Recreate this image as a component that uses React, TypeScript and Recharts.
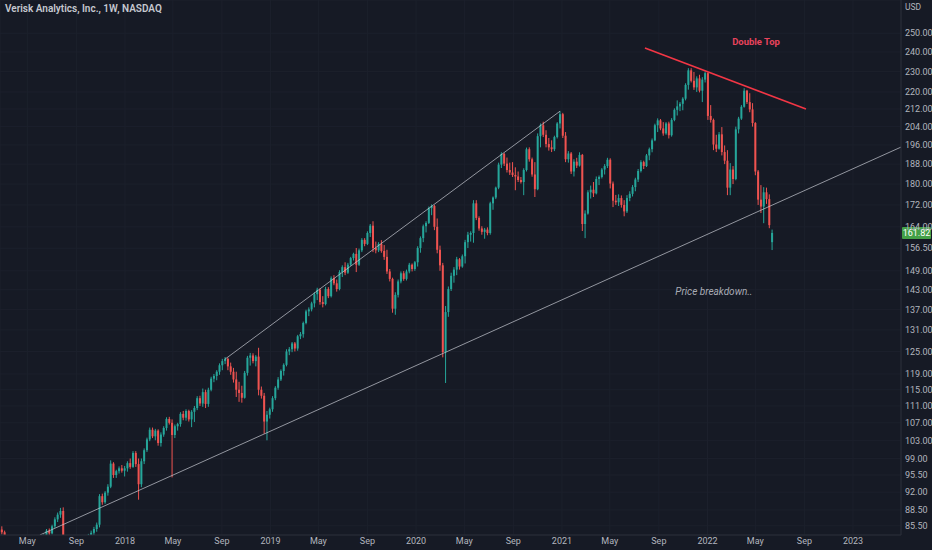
import {
  Bar,
  CartesianGrid,
  ComposedChart,
  ReferenceDot,
  ReferenceLine,
  XAxis,
  YAxis,
} from "recharts";

const GREEN = "#26a69a";
const RED = "#ef5350";
const BG = "#161a25";
const TEXT = "#b2b5be";
const GRID = "#1c202c";

// weeks are counted from Monday 1 Jan 2018; first candle is the week of 20 Feb 2017
const FIRST_WEEK = -45;

// weekly candles: [open, high, low, close]
const ohlc2017 = [
  [83.6, 85.2, 83.2, 84.8], [84.8, 85.4, 83.9, 84.3], [84.3, 84.6, 82.0, 82.6], [82.6, 83.2, 81.0, 81.5],
  [81.5, 82.4, 80.6, 82.0], [82.0, 82.8, 80.9, 81.2], [81.2, 82.5, 80.8, 82.2], [82.2, 83.4, 81.7, 83.0],
  [83.0, 83.5, 81.9, 82.3], [82.3, 82.9, 80.5, 81.0], [81.0, 81.8, 79.8, 80.6], [80.6, 81.9, 80.2, 81.6],
  [81.6, 82.8, 81.2, 82.5], [82.5, 83.3, 81.8, 82.1], [82.1, 83.0, 81.5, 82.8], [82.8, 83.6, 82.2, 83.1],
  [83.1, 83.9, 82.6, 83.7], [83.7, 84.9, 83.3, 84.6], [84.6, 85.0, 83.8, 84.1], [84.1, 85.7, 83.9, 85.4],
  [85.4, 87.1, 85.1, 86.7], [86.7, 88.0, 86.2, 87.6], [87.6, 88.9, 87.0, 88.3], [88.3, 89.0, 79.8, 81.2],
  [81.2, 82.0, 79.5, 80.1], [80.1, 81.3, 79.2, 80.9], [80.9, 81.8, 79.9, 80.4], [80.4, 81.5, 79.6, 81.1],
  [81.1, 82.6, 80.8, 82.3], [82.3, 83.2, 81.4, 81.9], [81.9, 82.9, 81.1, 82.6], [82.6, 83.5, 82.0, 83.1],
  [83.1, 84.0, 82.5, 83.7], [83.7, 84.6, 83.3, 84.2], [84.2, 85.3, 83.8, 84.9], [84.9, 86.1, 84.4, 85.7],
  [85.7, 91.6, 85.2, 91.2], [91.2, 91.7, 89.5, 90.0], [90.0, 92.2, 89.7, 91.9], [91.9, 93.6, 91.3, 93.1],
  [93.1, 98.6, 92.8, 97.9], [97.9, 98.2, 94.9, 95.5], [95.5, 96.6, 94.9, 96.3], [96.3, 97.3, 95.8, 96.9],
  [96.9, 97.6, 96.0, 96.4],
];

const ohlc2018 = [
  [96.4, 97.4, 95.2, 96.9], [96.9, 98.4, 96.2, 98.0], [98.0, 99.0, 96.8, 97.2], [97.2, 100.6, 97.0, 100.2],
  [100.2, 100.6, 97.2, 97.8], [97.8, 99.0, 90.5, 93.6], [93.6, 99.0, 93.0, 98.4], [98.4, 101.2, 97.8, 100.8],
  [100.8, 103.6, 100.4, 103.2], [103.2, 105.9, 102.8, 105.4], [105.4, 105.9, 103.5, 103.9], [103.9, 105.6, 103.0, 105.2],
  [105.2, 105.5, 101.8, 102.4], [102.4, 104.8, 101.6, 104.3], [104.3, 106.2, 103.8, 105.8], [105.8, 108.3, 105.2, 107.9],
  [107.9, 108.4, 106.6, 107.0], [107.0, 107.8, 95.0, 104.2], [104.2, 106.6, 103.5, 106.2], [106.2, 107.0, 105.2, 106.7],
  [106.7, 109.5, 106.1, 109.1], [109.1, 109.8, 107.6, 108.2], [108.2, 110.2, 107.5, 109.8], [109.8, 110.1, 107.3, 107.8],
  [107.8, 110.0, 106.0, 109.6], [109.6, 111.0, 107.2, 110.5], [110.5, 113.4, 110.0, 112.9], [112.9, 113.5, 111.0, 111.6],
  [111.6, 115.3, 110.8, 114.4], [114.4, 115.0, 110.5, 111.5], [111.5, 115.5, 110.8, 115.0], [115.0, 118.3, 114.6, 117.8],
  [117.8, 119.0, 116.9, 118.5], [118.5, 120.0, 117.4, 119.6], [119.6, 121.8, 118.8, 121.3], [121.3, 123.0, 120.0, 122.4],
  [122.4, 123.5, 121.6, 123.0], [123.0, 123.3, 120.0, 121.0], [121.0, 122.0, 118.8, 119.6], [119.6, 120.6, 116.8, 117.6],
  [117.6, 119.6, 113.2, 115.0], [115.0, 117.0, 112.0, 114.2], [114.2, 116.0, 111.8, 113.0], [113.0, 119.8, 112.8, 119.3],
  [119.3, 123.8, 118.6, 123.3], [123.3, 124.6, 121.2, 123.9], [123.9, 124.5, 121.8, 122.4], [122.4, 124.0, 121.0, 123.6],
  [123.6, 126.0, 113.6, 115.0], [115.0, 115.8, 112.8, 113.5], [113.5, 114.2, 104.5, 107.3], [107.3, 109.8, 103.0, 108.9],
];

const ohlc2019 = [
  [108.9, 110.6, 108.0, 110.2], [110.2, 113.4, 109.6, 112.9], [112.9, 115.9, 112.4, 115.5], [115.5, 118.2, 115.0, 117.6],
  [117.6, 120.2, 117.2, 119.8], [119.8, 121.8, 118.6, 121.4], [121.4, 125.6, 121.0, 125.0], [125.0, 126.2, 124.0, 125.6],
  [125.6, 127.6, 124.8, 127.2], [127.2, 127.6, 125.0, 125.8], [125.8, 129.6, 125.2, 129.2], [129.2, 130.4, 128.4, 129.8],
  [129.8, 133.4, 128.8, 133.0], [133.0, 136.9, 132.6, 136.4], [136.4, 137.6, 135.0, 137.0], [137.0, 139.3, 136.4, 138.8],
  [138.8, 142.2, 137.6, 141.6], [141.6, 143.6, 139.8, 143.0], [143.0, 143.4, 138.4, 139.2], [139.2, 141.0, 137.6, 138.6],
  [138.6, 143.9, 138.2, 143.2], [143.2, 143.8, 140.4, 141.0], [141.0, 147.2, 140.6, 146.6], [146.6, 147.6, 144.4, 145.0],
  [145.0, 146.2, 142.4, 143.2], [143.2, 149.2, 142.8, 148.6], [148.6, 150.8, 147.0, 150.2], [150.2, 151.8, 147.6, 148.4],
  [148.4, 151.6, 148.0, 151.0], [151.0, 153.6, 150.6, 153.2], [153.2, 155.0, 152.4, 154.6], [154.6, 156.6, 148.6, 151.0],
  [151.0, 156.4, 150.6, 155.8], [155.8, 160.0, 155.2, 159.4], [159.4, 160.0, 157.2, 158.0], [158.0, 162.4, 157.6, 161.8],
  [161.8, 165.0, 160.4, 164.4], [164.4, 166.0, 155.2, 156.6], [156.6, 158.8, 154.8, 155.8], [155.8, 158.6, 155.2, 158.0],
  [158.0, 159.3, 155.0, 155.6], [155.6, 157.6, 152.6, 153.6], [153.6, 156.0, 148.0, 148.8], [148.8, 149.6, 145.6, 146.4],
  [146.4, 146.8, 136.0, 137.2], [137.2, 142.2, 135.4, 141.4], [141.4, 146.2, 140.6, 145.6], [145.6, 148.8, 145.0, 148.2],
  [148.2, 148.9, 145.8, 146.4], [146.4, 149.4, 145.9, 148.8], [148.8, 151.6, 148.2, 151.0], [151.0, 151.4, 148.8, 149.6],
];

const ohlc2020 = [
  [149.6, 152.2, 149.0, 151.8], [151.8, 157.2, 150.4, 156.6], [156.6, 160.6, 155.0, 160.0], [160.0, 164.8, 158.6, 164.2],
  [164.2, 166.0, 162.0, 165.4], [165.4, 171.4, 165.0, 170.8], [170.8, 172.2, 168.2, 171.6], [171.6, 172.0, 162.8, 164.0],
  [164.0, 167.0, 154.8, 156.0], [156.0, 157.4, 149.0, 150.8], [150.8, 151.6, 123.4, 124.8], [124.8, 138.0, 116.7, 136.2],
  [136.2, 144.0, 134.8, 143.2], [143.2, 148.4, 142.6, 147.4], [147.4, 150.2, 145.2, 149.4], [149.4, 153.6, 147.6, 152.8],
  [152.8, 153.2, 149.4, 150.4], [150.4, 154.4, 150.0, 153.8], [153.8, 159.4, 151.4, 158.6], [158.6, 162.2, 156.6, 161.2],
  [161.2, 162.4, 158.8, 161.8], [161.8, 173.8, 158.4, 172.6], [172.6, 173.8, 166.4, 167.2], [167.2, 167.8, 162.6, 163.4],
  [163.4, 164.2, 161.2, 162.2], [162.2, 163.6, 159.8, 163.0], [163.0, 163.8, 161.0, 161.8], [161.8, 173.2, 161.2, 172.6],
  [172.6, 175.2, 170.2, 174.8], [174.8, 179.0, 174.2, 178.6], [178.6, 188.6, 178.0, 187.8], [187.8, 192.9, 186.4, 192.2],
  [192.2, 192.6, 187.2, 188.2], [188.2, 190.7, 184.6, 185.6], [185.6, 188.6, 183.6, 184.6], [184.6, 188.8, 182.8, 183.6],
  [183.6, 186.7, 177.6, 183.0], [183.0, 185.0, 180.8, 181.6], [181.6, 182.8, 180.2, 180.8], [180.8, 186.3, 175.7, 185.6],
  [185.6, 194.9, 185.0, 194.2], [194.2, 195.0, 189.0, 190.0], [190.0, 190.7, 182.9, 183.8], [183.8, 188.8, 175.0, 178.0],
  [178.0, 201.0, 177.6, 199.8], [199.8, 205.4, 195.0, 204.6], [204.6, 206.2, 199.4, 200.4], [200.4, 202.4, 195.0, 196.4],
  [196.4, 199.0, 193.6, 195.0], [195.0, 198.0, 193.0, 194.2], [194.2, 200.0, 193.4, 199.4], [199.4, 206.0, 198.8, 205.4],
];

const ohlc2021 = [
  [205.4, 211.0, 203.2, 209.6], [209.6, 210.2, 199.0, 200.0], [200.0, 201.6, 188.8, 190.0], [190.0, 193.4, 188.6, 192.4],
  [192.4, 193.0, 184.0, 185.0], [185.0, 190.0, 183.0, 189.0], [189.0, 190.6, 186.4, 187.4], [187.4, 192.9, 187.0, 191.8],
  [191.8, 192.2, 162.5, 165.0], [165.0, 170.0, 160.0, 168.8], [168.8, 177.6, 168.4, 176.8], [176.8, 179.4, 174.4, 177.8],
  [177.8, 180.8, 175.0, 176.4], [176.4, 183.0, 176.0, 182.0], [182.0, 183.4, 179.6, 182.8], [182.8, 186.4, 182.2, 185.8],
  [185.8, 188.0, 183.8, 187.2], [187.2, 190.6, 186.4, 189.8], [189.8, 190.4, 178.3, 180.2], [180.2, 181.0, 171.2, 173.6],
  [173.6, 175.8, 172.0, 173.0], [173.0, 176.0, 171.6, 174.6], [174.6, 175.6, 171.0, 172.0], [172.0, 173.8, 167.8, 169.6],
  [169.6, 175.7, 169.0, 174.6], [174.6, 177.2, 173.4, 176.2], [176.2, 179.6, 175.2, 178.8], [178.8, 182.5, 177.2, 181.8],
  [181.8, 186.0, 180.8, 185.2], [185.2, 189.6, 184.6, 188.8], [188.8, 189.4, 186.0, 187.2], [187.2, 192.2, 186.8, 191.6],
  [191.6, 194.9, 189.6, 194.2], [194.2, 198.8, 192.9, 198.0], [198.0, 205.3, 197.6, 204.6], [204.6, 207.7, 201.6, 206.8],
  [206.8, 207.4, 202.4, 203.2], [203.2, 206.0, 200.0, 201.0], [201.0, 206.0, 200.4, 205.4], [205.4, 206.2, 198.8, 200.2],
  [200.2, 207.8, 199.6, 207.0], [207.0, 212.3, 206.4, 211.6], [211.6, 216.0, 209.0, 213.2], [213.2, 215.2, 211.0, 214.4],
  [214.4, 217.5, 211.4, 216.8], [216.8, 224.2, 216.0, 223.4], [223.4, 231.7, 221.1, 230.6], [230.6, 231.7, 224.6, 225.4],
  [225.4, 229.8, 221.0, 222.2], [222.2, 227.6, 220.0, 226.6], [226.6, 228.4, 219.8, 220.6], [220.6, 227.2, 215.2, 226.0],
];

const ohlc2022 = [
  [226.0, 230.0, 224.6, 229.2], [229.2, 229.6, 207.0, 208.8], [208.8, 213.8, 205.8, 207.0], [207.0, 207.6, 193.8, 196.2],
  [196.2, 200.4, 193.0, 194.4], [194.4, 201.6, 194.0, 200.6], [200.6, 203.8, 191.6, 193.0], [193.0, 195.8, 188.0, 189.4],
  [189.4, 193.8, 175.7, 178.6], [178.6, 188.4, 175.7, 185.8], [185.8, 187.2, 180.0, 182.0], [182.0, 204.0, 181.5, 202.8],
  [202.8, 208.4, 201.0, 207.6], [207.6, 213.8, 207.0, 213.0], [213.0, 221.8, 212.6, 220.6], [220.6, 221.0, 214.3, 215.2],
  [215.2, 219.4, 210.5, 211.8], [211.8, 214.7, 204.0, 205.6], [205.6, 206.0, 183.5, 185.0], [185.0, 185.6, 172.0, 174.0],
  [174.0, 179.6, 169.0, 171.4], [171.4, 178.8, 165.3, 176.8], [176.8, 178.6, 172.4, 174.2], [174.2, 176.0, 163.5, 164.6],
  [158.6, 163.0, 155.9, 161.82],
];

const LAST_CLOSE = 161.82;

const priceTicks = [
  85.5, 88.5, 92, 95.5, 99, 103, 107, 111, 115, 119, 125, 131, 137, 143, 149,
  156.5, 164, 172, 180, 188, 196, 204, 212, 220, 230, 240, 250,
];

const tickMonths = [
  "2017-05", "2017-09", "2018-01", "2018-05", "2018-09", "2019-01", "2019-05", "2019-09",
  "2020-01", "2020-05", "2020-09", "2021-01", "2021-05", "2021-09", "2022-01", "2022-05",
  "2022-09", "2023-01",
];

// drawn lines: [week, price] at each end
const trendLines = [
  { from: [-30.5, 83.8], to: [278.05, 195.1], color: "#c9ccd4", width: 0.7 },
  { from: [35.8, 122.9], to: [155.9, 211.0], color: "#c9ccd4", width: 0.7 },
  { from: [186.3, 242.1], to: [244.0, 212.0], color: "#f23645", width: 1.6 },
];

const notes = [
  { text: "Double Top", t: 226.1, price: 245.8, color: "#e8435c", weight: 700, style: "normal", size: 9.5 },
  { text: "Price breakdown..", t: 211.0, price: 142.3, color: "#a9acb5", weight: 400, style: "italic", size: 10 },
];

const candles = [...ohlc2017, ...ohlc2018, ...ohlc2019, ...ohlc2020, ...ohlc2021, ...ohlc2022].map(
  ([open, high, low, close], i) => ({ t: FIRST_WEEK + i, open, high, low, close, range: [low, high] })
);

const weekOf = (ym: string) => {
  const [y, m] = ym.split("-").map(Number);
  return (Date.UTC(y, m - 1, 1) - Date.UTC(2018, 0, 1)) / (7 * 86400000);
};
const xTicks = tickMonths.map(weekOf);
const xTickLabels = tickMonths.map((ym) => {
  const [y, m] = ym.split("-");
  return m === "01" ? y : m === "05" ? "May" : "Sep";
});

function Candle(props: any) {
  const { x, y, width, height, payload } = props;
  if (!payload) return null;
  const { open, high, low, close } = payload;
  const top = Math.min(y, y + height);
  const span = Math.abs(height);
  const logSpan = Math.log(high / low);
  const toY = (p: number) => top + (logSpan > 0 ? (span * Math.log(high / p)) / logSpan : 0);
  const color = close >= open ? GREEN : RED;
  const cx = x + width / 2;
  const bodyTop = toY(Math.max(open, close));
  const bodyBottom = toY(Math.min(open, close));
  return (
    <g>
      <line x1={cx} x2={cx} y1={top} y2={top + span} stroke={color} strokeWidth={1} />
      <rect x={cx - 1} y={bodyTop} width={2} height={Math.max(1, bodyBottom - bodyTop)} fill={color} />
    </g>
  );
}

function PriceTag({ viewBox }: any) {
  if (!viewBox) return null;
  const x = viewBox.x + viewBox.width + 1;
  return (
    <g>
      <rect x={x} y={viewBox.y - 6} width={29} height={12} rx={1} fill="#43a047" />
      <text x={x + 14.5} y={viewBox.y} fill="#ffffff" fontSize={9} textAnchor="middle" dominantBaseline="central">
        {LAST_CLOSE.toFixed(2)}
      </text>
    </g>
  );
}

export default function App() {
  return (
    <div style={{ position: "relative", width: 932, height: 550, background: BG, fontFamily: "Roboto, 'Noto Sans', sans-serif" }}>
      <style>{`body{margin:0;background:${BG}}`}</style>
      <ComposedChart width={932} height={550} data={candles} margin={{ top: 0, right: 0, bottom: 0, left: 0 }}>
        <CartesianGrid stroke={GRID} />
        <XAxis
          type="number"
          dataKey="t"
          domain={[-44.8, 278.05]}
          allowDataOverflow
          ticks={xTicks}
          interval={0}
          tickFormatter={(v: number, i: number) => xTickLabels[i]}
          height={15}
          tick={{ fill: TEXT, fontSize: 9 }}
          tickLine={false}
          tickSize={2}
          tickMargin={1}
          axisLine={{ stroke: "#2a2e39" }}
        />
        <YAxis
          orientation="right"
          scale="log"
          domain={[83.8, 268.8]}
          allowDataOverflow
          ticks={priceTicks}
          interval={0}
          tickFormatter={(v: number) => v.toFixed(2)}
          width={31}
          tick={{ fill: TEXT, fontSize: 9 }}
          tickLine={false}
          tickSize={2}
          tickMargin={2}
          axisLine={{ stroke: "#2a2e39" }}
        />
        <Bar dataKey="range" barSize={2} shape={Candle} isAnimationActive={false} />
        {trendLines.map((l, i) => (
          <ReferenceLine
            key={i}
            segment={[
              { x: l.from[0], y: l.from[1] },
              { x: l.to[0], y: l.to[1] },
            ]}
            stroke={l.color}
            strokeWidth={l.width}
            ifOverflow="hidden"
          />
        ))}
        <ReferenceLine y={LAST_CLOSE} stroke="none" label={PriceTag} />
        {notes.map((n) => (
          <ReferenceDot
            key={n.text}
            x={n.t}
            y={n.price}
            r={0}
            ifOverflow="visible"
            shape={(p: any) => (
              <text
                x={p.cx}
                y={p.cy}
                fill={n.color}
                fontSize={n.size}
                fontWeight={n.weight}
                fontStyle={n.style}
                textAnchor="middle"
                dominantBaseline="central"
              >
                {n.text}
              </text>
            )}
          />
        ))}
      </ComposedChart>
      <div style={{ position: "absolute", left: 5, top: 3, color: "#c5c8d0", fontSize: 10, fontWeight: 600 }}>
        Verisk Analytics, Inc., 1W, NASDAQ
      </div>
      <div style={{ position: "absolute", left: 905, top: 2, color: TEXT, fontSize: 8.5, background: BG, width: 27 }}>
        USD
      </div>
    </div>
  );
}
